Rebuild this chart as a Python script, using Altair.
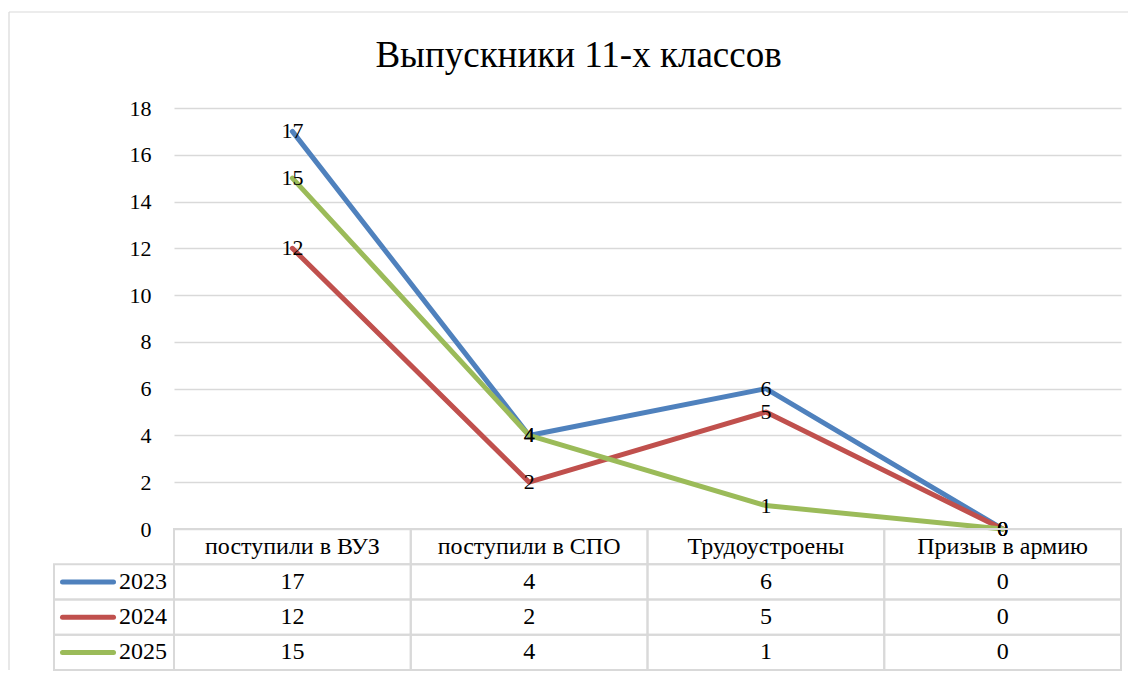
import altair as alt
import pandas as pd

# ---- data ----
categories = ["поступили в ВУЗ", "поступили в СПО", "Трудоустроены", "Призыв в армию"]
years = ["2023", "2024", "2025"]
values_2023 = [17, 4, 6, 0]
values_2024 = [12, 2, 5, 0]
values_2025 = [15, 4, 1, 0]
y_ticks = [0, 2, 4, 6, 8, 10, 12, 14, 16, 18]
title_text = "Выпускники 11-х классов"

colors = ["#4F81BD", "#C0504D", "#9BBB59"]
FONT = "Liberation Serif"
GRID = "#D9D9D9"
FS_AXIS = 22
FS_LABEL = 22
FS_TABLE = 24

series = {"2023": values_2023, "2024": values_2024, "2025": values_2025}
long_rows = []
for yr in years:
    for c, v in zip(categories, series[yr]):
        long_rows.append({"year": yr, "category": c, "value": v})
df = pd.DataFrame(long_rows)

table_rows = ["header"] + years
cells = [{"row": "header", "category": c, "label": c} for c in categories]
for yr in years:
    for c, v in zip(categories, series[yr]):
        cells.append({"row": yr, "category": c, "label": str(v)})
cells_df = pd.DataFrame(cells)
legend_df = pd.DataFrame({"row": years})

PLOT_W = 947
PLOT_H = 421
LEG_W = 120
TAB_H = 141

# ---- line chart ----
x_line = alt.X("category:N", sort=categories, axis=None,
               scale=alt.Scale(type="point", domain=categories, padding=0.5))
y_line = alt.Y("value:Q",
               scale=alt.Scale(domain=[0, 18], nice=False, zero=True),
               axis=alt.Axis(values=y_ticks, title=None, ticks=False, domain=False,
                             labelFont=FONT, labelFontSize=FS_AXIS, labelColor="black",
                             labelPadding=23, grid=True, gridColor=GRID, gridWidth=1.7))
lines = alt.Chart(df).mark_line(strokeWidth=5, strokeCap="round", strokeJoin="round").encode(
    x=x_line, y=y_line,
    color=alt.Color("year:N", scale=alt.Scale(domain=years, range=colors), legend=None),
)
point_labels = alt.Chart(df).mark_text(font=FONT, fontSize=FS_LABEL, color="black",
                                       baseline="middle", align="center").encode(
    x=x_line, y=y_line, text="value:Q", detail="year:N"
)

# outer chart frame (decoration)
frame_df = pd.DataFrame({"k": [0]})
frame_v = alt.Chart(frame_df).mark_rule(color=GRID, strokeWidth=1.2).encode(
    x=alt.value(-165), y=alt.value(-96), y2=alt.value(562))
frame_h = alt.Chart(frame_df).mark_rule(color=GRID, strokeWidth=1.2).encode(
    x=alt.value(-165), x2=alt.value(954), y=alt.value(-96))

line_chart = alt.layer(frame_v, frame_h, lines, point_labels).properties(
    width=PLOT_W, height=PLOT_H)

# ---- data table with legend column ----
x_tab = alt.X("category:N", sort=categories, axis=None,
              scale=alt.Scale(domain=categories, paddingInner=0, paddingOuter=0))
y_tab = alt.Y("row:N", axis=None,
              scale=alt.Scale(domain=table_rows, paddingInner=0, paddingOuter=0))
y_mid = alt.Y("row:N", axis=None, bandPosition=0.5,
              scale=alt.Scale(domain=table_rows, paddingInner=0, paddingOuter=0))
cell_rect = alt.Chart(cells_df).mark_rect(fillOpacity=0, stroke=GRID, strokeWidth=2).encode(
    x=x_tab, y=y_tab)
cell_text = alt.Chart(cells_df).mark_text(font=FONT, fontSize=FS_TABLE, color="black",
                                          baseline="middle", align="center").encode(
    x=x_tab, y=y_mid, text="label:N")

leg_rect = alt.Chart(legend_df).mark_rect(fillOpacity=0, stroke=GRID, strokeWidth=2).encode(
    x=alt.value(-LEG_W), x2=alt.value(0), y=y_tab)
leg_swatch = alt.Chart(legend_df).mark_rule(strokeWidth=5, strokeCap="round").encode(
    x=alt.value(-111.5), x2=alt.value(-60.5), y=y_mid,
    color=alt.Color("row:N", scale=alt.Scale(domain=years, range=colors), legend=None))
leg_text = alt.Chart(legend_df).mark_text(font=FONT, fontSize=FS_TABLE, color="black",
                                          align="right", baseline="middle").encode(
    x=alt.value(-7), y=y_mid, text="row:N")

table = alt.layer(leg_rect, cell_rect, leg_swatch, leg_text, cell_text).properties(
    width=PLOT_W, height=TAB_H)

chart = alt.vconcat(line_chart, table, spacing=0, bounds="flush").resolve_scale(
    x="independent", y="independent", color="independent"
).properties(
    title=alt.TitleParams(title_text, font=FONT, fontSize=37, fontWeight="normal",
                          color="black", anchor="middle", frame="group", dx=-69, offset=-64),
    padding={"left": 0, "top": 3, "right": 0, "bottom": 0},
    background="white",
).configure_view(strokeWidth=0)

chart.save("out.html", embed_options={"renderer": "svg", "actions": False})
